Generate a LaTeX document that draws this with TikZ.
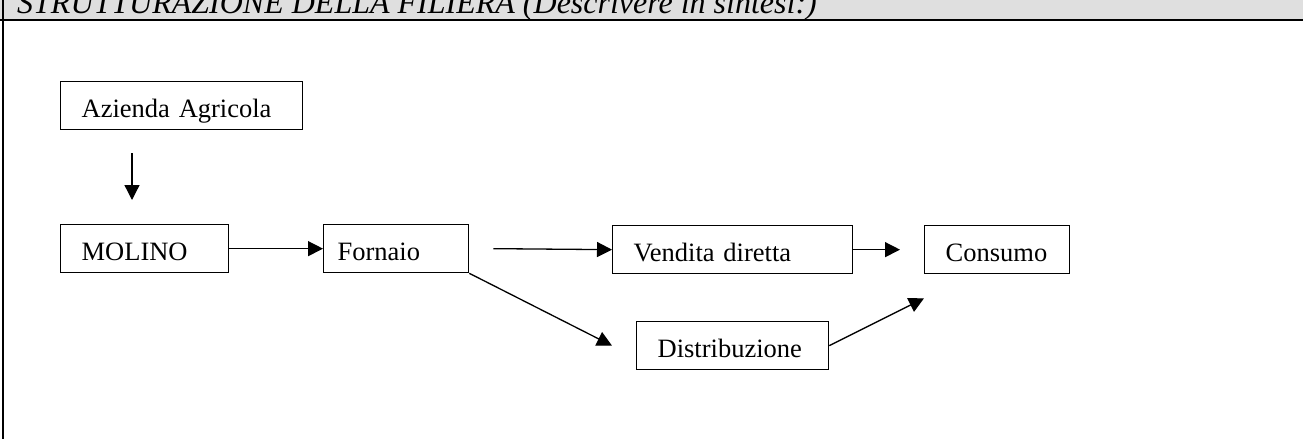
\documentclass[tikz,border=0pt]{standalone}
\usepackage{fontspec}
\setmainfont{Liberation Serif}
\usetikzlibrary{arrows.meta}
\definecolor{headgray}{RGB}{223,223,223}
\tikzset{
	blk/.style={draw, line width=1.3pt, anchor=north west, align=left,
		inner xsep=21pt, inner ysep=0pt, text height=36pt, text depth=12pt,
		font=\fontsize{26.5}{30}\selectfont},
	flow/.style={-{Triangle[length=15pt,width=15pt]}, line width=1.3pt},
}
\begin{document}
\begin{tikzpicture}[x=1pt, y=-1pt]
	\useasboundingbox[clip] (0,0) rectangle (1303,439);
	
	%header
	\fill[headgray] (0,0) rectangle (1303,20);
	\node[anchor=base west, inner sep=0pt, font=\fontsize{32}{36}\selectfont\itshape] (title) at (17,13) {STRUTTURAZIONE DELLA FILIERA (Descrivere in sintesi:)};
	\draw[line width=2pt] (0,20) -- (1303,20);
	\draw[line width=2pt] (2.5,0) -- (2.5,439);
	
	%boxes
	\node[blk, text width=200pt] (azienda) at (60,81) {Azienda Agricola};
	\node[blk, text width=126pt] (molino) at (60,224) {MOLINO};
	\node[blk, inner xsep=14pt, text width=117pt] (fornaio) at (323,224) {Fornaio};
	\node[blk, text width=198pt] (vendita) at (612,225) {Vendita diretta};
	\node[blk, text width=103pt] (consumo) at (924,225) {Consumo};
	\node[blk, text width=150pt] (distrib) at (636,321) {Distribuzione};
	
	%arrows
	\draw[flow] ([xshift=72pt,yshift=-23pt]azienda.south west) -- ([xshift=72pt,yshift=24pt]molino.north west);
	\draw[flow] (molino.east) -- (fornaio.west);
	\draw[flow] ([xshift=24pt]fornaio.east) -- (vendita.west);
	\draw[flow] (vendita.east) -- ([xshift=-24pt]consumo.west);
	\draw[flow] (fornaio.south east) -- ([xshift=-24pt]distrib.west);
	\draw[flow] (distrib.east) -- ([yshift=-24pt]consumo.south west);
\end{tikzpicture}
\end{document}
